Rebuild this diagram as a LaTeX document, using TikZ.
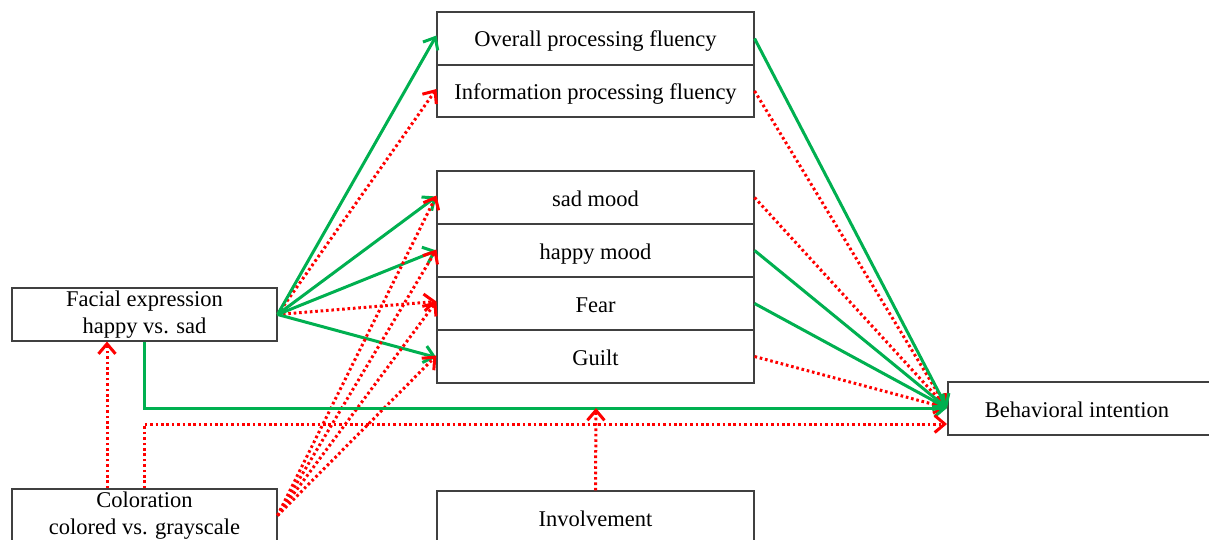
\documentclass[tikz,border=0pt]{standalone}
\usepackage{fontspec}
\setmainfont{Liberation Serif}
\usetikzlibrary{arrows.meta}
\definecolor{ogreen}{HTML}{00B050}
\definecolor{ored}{HTML}{FF0000}
\definecolor{bord}{HTML}{404040}
\begin{document}
\begin{tikzpicture}[x=1pt,y=-1pt,
  box/.style={draw=bord,line width=1.1pt,rectangle,inner sep=0pt,minimum height=53pt,
    align=center,font=\fontsize{22.5}{26.5}\selectfont},
  one/.style={text height=18pt,text depth=1pt},
  midbox/.style={box,one,minimum width=317pt},
  sidebox/.style={box,minimum width=265pt},
  tip/.style={-{Straight Barb[length=10pt,width=17pt]}},
  grn/.style={draw=ogreen,line width=3pt,tip},
  rdd/.style={draw=ored,line width=3pt,dash pattern=on 2.6pt off 2.8pt,tip}]
\useasboundingbox (0,0) rectangle (1209,540);
% nodes
\node[midbox] (ov) at (595.5,38.5) {Overall processing fluency};
\node[midbox,minimum height=52pt] (inf) at (595.5,91) {Information processing fluency};
\node[midbox] (sad) at (595.5,197.5) {sad mood};
\node[midbox] (hap) at (595.5,250.5) {happy mood};
\node[midbox] (fear) at (595.5,303.5) {Fear};
\node[midbox] (guilt) at (595.5,356.5) {Guilt};
\node[sidebox] (fac) at (144.5,314.5) {Facial expression\\happy vs. sad};
\node[sidebox] (col) at (144.5,515.5) {Coloration\\colored vs. grayscale};
\node[midbox] (inv) at (595.5,517.5) {Involvement};
\node[box,one,minimum width=266pt] (beh) at (1081,408.5) {\hspace*{-8pt}Behavioral intention};
% helper coordinates
\coordinate (behT) at (947,408);
\coordinate (behR) at (947,424);
\coordinate (invT) at (596,408);
% facial to mediators
\draw[rdd] (fac.east) -- ([yshift=2pt]inf.west);
\draw[rdd] (fac.east) -- ([yshift=2pt]fear.west);
\draw[grn] (fac.east) -- ([yshift=3pt]ov.west);
\draw[grn] (fac.east) -- ([yshift=1pt]sad.west);
\draw[grn] (fac.east) -- ([yshift=0pt]hap.west);
\draw[grn] (fac.east) -- ([yshift=-1pt]guilt.west);
% coloration to mediators
\draw[rdd] (col.east) -- ([yshift=2pt]sad.west);
\draw[rdd] (col.east) -- ([yshift=1pt]hap.west);
\draw[rdd] (col.east) -- ([yshift=2pt]fear.west);
\draw[rdd] (col.east) -- ([yshift=1pt]guilt.west);
% mediators to behavioral intention
\draw[rdd] (inf.east) -- (behT);
\draw[rdd] (sad.east) -- (behT);
\draw[rdd] (guilt.east) -- (behT);
\draw[grn] (ov.east) -- (behT);
\draw[grn] (hap.east) -- (behT);
\draw[grn] (fear.east) -- (behT);
% direct effects
\draw[grn] (fac.south) |- (behT);
\draw[rdd] (col.north) |- (behR);
\draw[rdd] ([xshift=-37.5pt]col.north) -- ([xshift=-37.5pt]fac.south);
\draw[rdd] (inv.north) -- (invT);
\end{tikzpicture}
\end{document}
